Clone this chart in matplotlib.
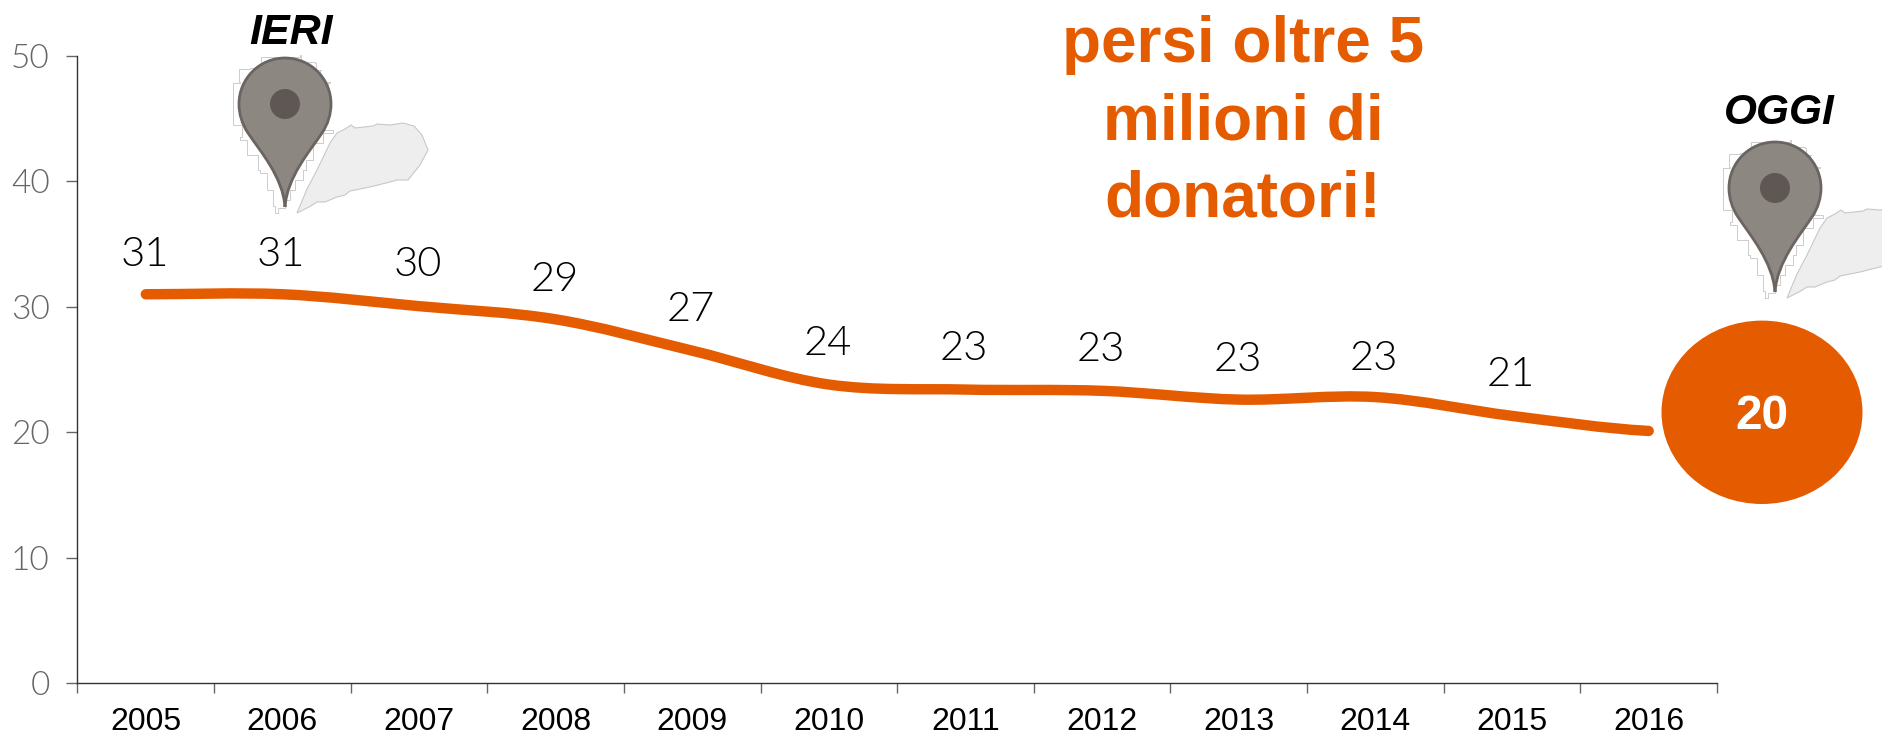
import numpy as np
import matplotlib
matplotlib.use('Agg')
import matplotlib.pyplot as plt
from matplotlib.path import Path
from matplotlib.patches import PathPatch, Ellipse, Circle

years = ['2005', '2006', '2007', '2008', '2009', '2010', '2011', '2012', '2013', '2014', '2015', '2016']
# line as drawn (smoothed chart line), labels as printed
line_values = [31.0, 31.0, 30.05, 29.0, 26.5, 23.8, 23.4, 23.3, 22.6, 22.8, 21.3, 20.1]
labels = ['31', '31', '30', '29', '27', '24', '23', '23', '23', '23', '21']
label_heights = [34.2, 34.2, 33.4, 32.2, 29.8, 27.1, 26.7, 26.6, 25.8, 25.9, 24.6]
yticks = [0, 10, 20, 30, 40, 50]

ORANGE = '#e55b00'
W, H = 1883, 735

fig = plt.figure(figsize=(W / 100, H / 100), dpi=100)
ax = fig.add_axes([77.5 / W, 1 - 683 / H, (1717 - 77.5) / W, (683 - 56) / H])
ax.set_xlim(0, 12)
ax.set_ylim(0, 50)

for s in ['top', 'right']:
    ax.spines[s].set_visible(False)
for s in ['left', 'bottom']:
    ax.spines[s].set_color('#333333')
    ax.spines[s].set_linewidth(1.0)

ax.set_yticks(yticks)
ax.set_yticklabels([str(v) for v in yticks], family='Lato', weight=300, fontsize=24, color='#666666')
ax.tick_params(axis='y', length=8, width=1, color='#666666', pad=12)
ax.set_xticks(range(13))
ax.set_xticklabels([''] * 13)
ax.tick_params(axis='x', length=7, width=1, color='#666666')
for i, y in enumerate(years):
    ax.text(i + 0.5, -3.1, y, ha='center', va='center', family='Liberation Sans', fontsize=23, color='black')

# smooth line, catmull-rom style bezier through the values
xs = np.arange(len(line_values)) + 0.5
ys = np.array(line_values)
verts = [(xs[0], ys[0])]
codes = [Path.MOVETO]
for i in range(len(xs) - 1):
    y0 = ys[max(i - 1, 0)]
    y3 = ys[min(i + 2, len(ys) - 1)]
    verts += [(xs[i] + 1 / 3, ys[i] + (ys[i + 1] - y0) / 6),
              (xs[i + 1] - 1 / 3, ys[i + 1] - (y3 - ys[i]) / 6),
              (xs[i + 1], ys[i + 1])]
    codes += [Path.CURVE4] * 3
ax.add_patch(PathPatch(Path(verts, codes), fill=False, edgecolor=ORANGE, lw=7.5, capstyle='round', clip_on=False))

for i, t in enumerate(labels):
    ax.text(i + 0.49, label_heights[i], t, ha='center', va='center', family='Lato', weight=300,
            fontsize=30, color='black')

# overlay in pixel coordinates for the pins and callouts
ov = fig.add_axes([0, 0, 1, 1])
ov.set_xlim(0, W)
ov.set_ylim(H, 0)
ov.axis('off')
ov.patch.set_alpha(0)


def stairs(pts):
    out = []
    for a, b in zip(pts, pts[1:] + pts[:1]):
        out += [a, (b[0], a[1])]
    return out


shadow = [(12, 6), (22, -18), (32, -37), (45, -64), (52, -74), (60, -78), (66, -82), (70, -79), (88, -81), (92, -83),
          (105, -82), (118, -84), (129, -81), (137, -72), (143, -57), (135, -42), (123, -27), (112, -27), (105, -25),
          (85, -20), (65, -16), (60, -12), (52, -10), (40, -5), (32, -5), (24, 0)]
halo = [(-52, -84), (-52, -124), (-45, -125), (-46, -138), (-35, -139), (-24, -145), (-24, -150), (15, -152),
        (16, -145), (30, -144), (31, -137), (36, -137), (35, -125), (45, -124), (43, -104), (41, -84), (38, -77),
        (48, -74), (38, -64), (28, -47), (21, -37), (18, -27), (10, -17), (5, -7), (0, 1), (-7, 6), (-10, -1),
        (-12, -17), (-18, -34), (-25, -37), (-27, -52), (-38, -67), (-45, -70), (-43, -82)]


def pin(cx, cy, tipy):
    r = 46
    s = np.array(shadow) + [cx, tipy]
    ov.add_patch(plt.Polygon(s, closed=True, facecolor='#eeeeee', edgecolor='#c8c8c8', lw=0.8, zorder=3))
    h = np.array(stairs(halo)) + [cx, tipy]
    ov.add_patch(plt.Polygon(h, closed=True, facecolor='white', edgecolor='#cccccc', lw=0.7, zorder=4))
    k = 0.5523 * r
    v = [(cx, tipy),
         (cx - 2, tipy - 30), (cx - 25, cy + 47), (cx - 37, cy + 29),
         (cx - 43, cy + 20), (cx - r, cy + 10), (cx - r, cy),
         (cx - r, cy - k), (cx - k, cy - r), (cx, cy - r),
         (cx + k, cy - r), (cx + r, cy - k), (cx + r, cy),
         (cx + r, cy + 10), (cx + 43, cy + 20), (cx + 37, cy + 29),
         (cx + 25, cy + 47), (cx + 2, tipy - 30), (cx, tipy)]
    c = [Path.MOVETO] + [Path.CURVE4] * 18
    ov.add_patch(PathPatch(Path(v, c), facecolor='#8d8782', edgecolor='#6b6460', lw=2, zorder=5))
    ov.add_patch(Circle((cx, cy), 15, facecolor='#5f5753', edgecolor='none', zorder=6))


pin(285, 104, 207)
pin(1775, 188, 292)

ov.text(291, 33, 'IERI', ha='center', va='center', family='Liberation Sans', weight='bold', style='italic',
        fontsize=31, color='black')
ov.text(1779, 113, 'OGGI', ha='center', va='center', family='Liberation Sans', weight='bold', style='italic',
        fontsize=30.5, color='black')

ov.add_patch(Ellipse((1762, 412.3), 201, 183.4, facecolor=ORANGE, edgecolor='none', zorder=5))
ov.text(1762, 416, '20', ha='center', va='center', family='Liberation Sans', weight='bold', fontsize=34.5,
        color='white', zorder=6)

for yy, t in zip([45, 122, 199], ['persi oltre 5', 'milioni di', 'donatori!']):
    ov.text(1243, yy, t, ha='center', va='center', family='Liberation Sans', weight='bold', fontsize=46,
            color=ORANGE)

fig.savefig('out.png', dpi=100)
